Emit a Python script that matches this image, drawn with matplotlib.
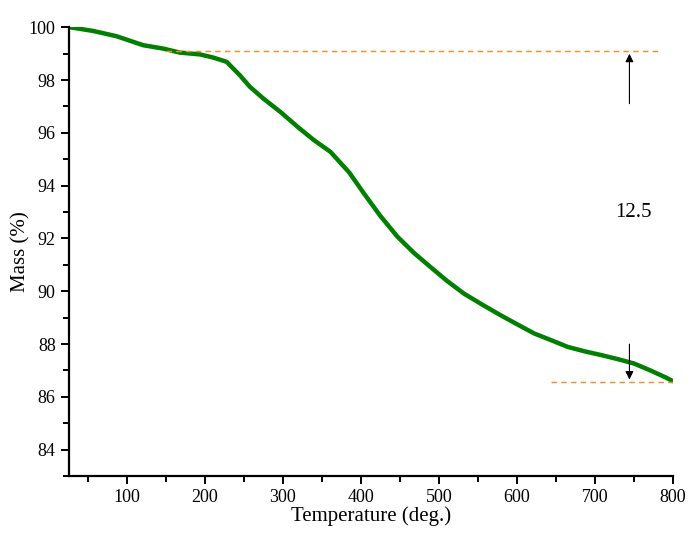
import matplotlib.pyplot as plt
from matplotlib.ticker import MultipleLocator

# TGA curve
temp = [27, 57, 87, 121, 147, 168, 194, 211, 228, 245, 258, 275, 297, 320, 340,
        361, 385, 404, 425, 447, 468, 489, 510, 532, 555, 579, 600, 622, 645,
        665, 687, 708, 730, 750, 770, 790, 800]
mass = [100.0, 99.86, 99.66, 99.32, 99.19, 99.04, 98.97, 98.85, 98.69, 98.18,
        97.74, 97.30, 96.79, 96.20, 95.72, 95.28, 94.50, 93.70, 92.85, 92.06,
        91.45, 90.92, 90.40, 89.91, 89.50, 89.09, 88.75, 88.40, 88.13,
        87.89, 87.72, 87.58, 87.42, 87.26, 87.01, 86.74, 86.59]

upper_level = 99.1
lower_level = 86.55
mass_loss_label = "12.5"

plt.rcParams["font.family"] = ["Liberation Serif", "DejaVu Serif"]

fig = plt.figure(figsize=(6.89, 5.34), dpi=100)
ax = fig.add_axes([0.1, 0.1086, 0.877, 0.8404])

ax.plot(temp, mass, color="#007f00", lw=3.2, solid_capstyle="round")

# reference levels and arrows
ax.plot([150, 780], [upper_level, upper_level], color="#ff8c1a", lw=1, ls=(0, (4, 3)))
ax.plot([643, 800], [lower_level, lower_level], color="#ff8c1a", lw=1, ls=(0, (4, 3)))
ax.annotate("", xy=(744, upper_level), xytext=(744, 97.0),
            arrowprops=dict(arrowstyle="-|>", color="black", lw=0.8, mutation_scale=12))
ax.annotate("", xy=(744, lower_level), xytext=(744, 88.1),
            arrowprops=dict(arrowstyle="-|>", color="black", lw=0.8, mutation_scale=12))
ax.text(749, 93.0, mass_loss_label, fontsize=15, ha="center", va="center")

ax.set_xlim(26, 800)
ax.set_ylim(83, 100)
ax.xaxis.set_major_locator(MultipleLocator(100))
ax.xaxis.set_minor_locator(MultipleLocator(50))
ax.yaxis.set_major_locator(MultipleLocator(2))
ax.yaxis.set_minor_locator(MultipleLocator(1))

for side in ["top", "right"]:
    ax.spines[side].set_visible(False)
for side in ["left", "bottom"]:
    ax.spines[side].set_linewidth(1.6)

ax.tick_params(which="major", direction="out", length=6, width=1.4, labelsize=13)
ax.tick_params(which="minor", direction="out", length=4, width=1.4)

ax.set_xlabel("Temperature (deg.)", fontsize=15, labelpad=0)
ax.set_ylabel("Mass (%)", fontsize=15, labelpad=-1)

fig.savefig("out.png", dpi=100)
